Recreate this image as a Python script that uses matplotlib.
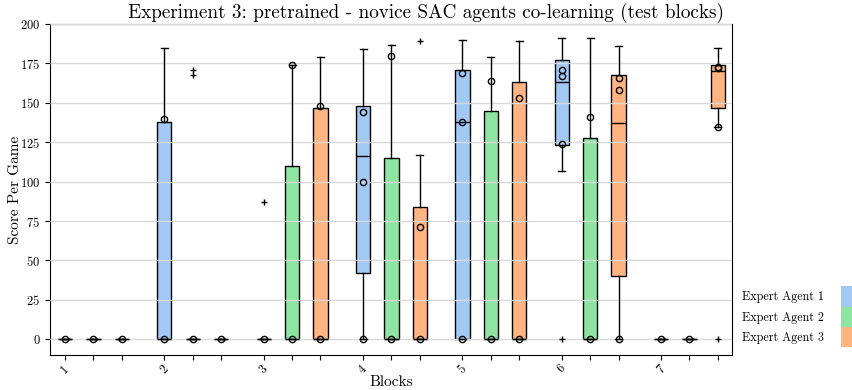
import matplotlib
matplotlib.use("Agg")
import matplotlib.pyplot as plt
from matplotlib.patches import Patch

plt.rcParams['font.family'] = ['cmr10', 'DejaVu Serif']
plt.rcParams['mathtext.fontset'] = 'cm'
plt.rcParams['axes.formatter.use_mathtext'] = True

blocks = ['1', '2', '3', '4', '5', '6', '7']
agents = ['Expert Agent 1', 'Expert Agent 2', 'Expert Agent 3']
colors = ['#a1c9f4', '#8de5a1', '#ffb482']

# box statistics per agent, one value per block
a1_q1 = [0, 0, 0, 42, 0, 123, 0]
a1_med = [0, 0, 0, 116, 138, 163, 0]
a1_q3 = [0, 138, 0, 148, 171, 177, 0]
a1_lo = [0, 0, 0, 0, 0, 107, 0]
a1_hi = [0, 185, 0, 184, 190, 191, 0]
a1_fliers = [[], [], [87], [], [], [0], []]
a1_points = [[0], [140, 0], [0], [144, 100, 0], [169, 138, 0], [171, 167, 124], [0]]

a2_q1 = [0, 0, 0, 0, 0, 0, 0]
a2_med = [0, 0, 0, 0, 0, 0, 0]
a2_q3 = [0, 0, 110, 115, 145, 128, 0]
a2_lo = [0, 0, 0, 0, 0, 0, 0]
a2_hi = [0, 0, 174, 187, 179, 191, 0]
a2_fliers = [[], [171, 168], [], [], [], [], []]
a2_points = [[0], [0], [174, 0], [180, 0], [164, 0], [141, 0], [0]]

a3_q1 = [0, 0, 0, 0, 0, 40, 147]
a3_med = [0, 0, 0, 0, 0, 137, 170]
a3_q3 = [0, 0, 147, 84, 163, 168, 174]
a3_lo = [0, 0, 0, 0, 0, 0, 135]
a3_hi = [0, 0, 179, 117, 189, 186, 185]
a3_fliers = [[], [], [], [189], [], [], [0]]
a3_points = [[0], [0], [148, 0], [71, 0], [153, 0], [166, 158, 0], [173, 172, 135]]

series = [
    (a1_q1, a1_med, a1_q3, a1_lo, a1_hi, a1_fliers, a1_points),
    (a2_q1, a2_med, a2_q3, a2_lo, a2_hi, a2_fliers, a2_points),
    (a3_q1, a3_med, a3_q3, a3_lo, a3_hi, a3_fliers, a3_points),
]

fig = plt.figure(figsize=(8.52, 3.9), dpi=100)
ax = fig.add_axes([0.0587, 0.0897, 0.8005, 0.8485])

step = 3.5
all_pos = []
all_labels = []
for b in range(len(blocks)):
    for k in range(3):
        all_pos.append(b * step + k)
        all_labels.append(blocks[b] if k == 0 else '')

for k, (q1, med, q3, lo, hi, fl, pts) in enumerate(series):
    stats = []
    pos = []
    for b in range(len(blocks)):
        stats.append(dict(q1=q1[b], med=med[b], q3=q3[b], whislo=lo[b], whishi=hi[b], fliers=fl[b]))
        pos.append(b * step + k)
    ax.bxp(stats, positions=pos, widths=0.5, patch_artist=True, manage_ticks=False,
           boxprops=dict(facecolor=colors[k], edgecolor='black', linewidth=1.0, zorder=2),
           medianprops=dict(color='black', linewidth=1.0, zorder=3),
           whiskerprops=dict(color='black', linewidth=1.0, zorder=3),
           capprops=dict(color='black', linewidth=1.0, zorder=3),
           flierprops=dict(marker='+', markeredgecolor='black', markersize=5,
                           linestyle='none', zorder=3))
    for b in range(len(blocks)):
        ys = pts[b]
        ax.plot([b * step + k] * len(ys), ys, linestyle='none', marker='o', markersize=4.5,
                markerfacecolor='none', markeredgecolor='black', markeredgewidth=1.0, zorder=4)

ax.yaxis.grid(True, color='#d9d9d9', linewidth=1.0, zorder=2.5)
ax.set_axisbelow(False)
for gl in ax.get_ygridlines():
    gl.set_zorder(2.5)
ax.set_xlim(-0.53, 23.5)
ax.set_ylim(-10, 200)
ax.set_yticks([0, 25, 50, 75, 100, 125, 150, 175, 200])
ax.set_xticks(all_pos)
ax.set_xticklabels(all_labels, rotation=45, fontsize=9)
ax.tick_params(axis='x', pad=2)
ax.tick_params(axis='y', labelsize=9)
ax.set_xlabel('Blocks', fontsize=11)
ax.xaxis.set_label_coords(0.5, -0.06)
ax.set_ylabel('Score Per Game', fontsize=11)
ax.yaxis.set_label_coords(-0.041, 0.5)
fig.text(0.5, 0.968, 'Experiment 3: pretrained - novice SAC agents co-learning (test blocks)',
         fontsize=13.8, ha='center', va='center')

handles = [Patch(facecolor=c, edgecolor='none', label=l) for c, l in zip(colors, agents)]
fig.legend(handles=handles, loc='lower left', bbox_to_anchor=(0.871, 0.110), frameon=False,
           markerfirst=False, fontsize=8.7, handlelength=3.0, handleheight=2.2,
           handletextpad=1.4, labelspacing=0.0, borderpad=0.0, borderaxespad=0.0)

fig.savefig('out.png', dpi=100)
